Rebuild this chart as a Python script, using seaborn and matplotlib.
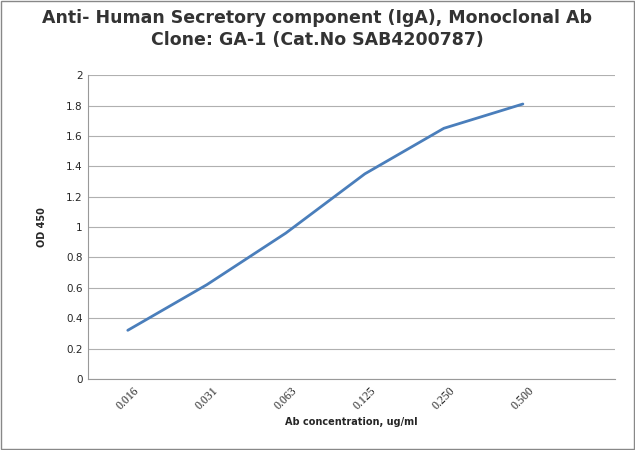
import matplotlib
matplotlib.use("Agg")
import matplotlib.pyplot as plt
import seaborn as sns
import pandas as pd

concentrations = ["0.016", "0.031", "0.063", "0.125", "0.250", "0.500"]
od450 = [0.32, 0.62, 0.96, 1.35, 1.65, 1.81]
yticks = [0, 0.2, 0.4, 0.6, 0.8, 1, 1.2, 1.4, 1.6, 1.8, 2]

sns.set_style("white")
df = pd.DataFrame({"x": range(len(concentrations)), "y": od450})
fig = plt.figure(figsize=(6.35, 4.5), dpi=100)
ax = fig.add_axes([0.139, 0.158, 0.83, 0.675])
sns.lineplot(data=df, x="x", y="y", ax=ax, color="#4a7ebb", linewidth=2)
ax.set_xlim(-0.5, 6.17)
ax.set_ylim(0, 2)
ax.set_yticks(yticks)
ax.set_yticklabels([f"{v:g}" for v in yticks], fontsize=7.5)
ax.set_xticks(range(len(concentrations)))
ax.set_xticklabels(concentrations, rotation=45, fontsize=8.5, family="Liberation Serif")
ax.grid(axis="y", color="#b0b0b0", linewidth=0.8)
for s in ["top", "right"]:
    ax.spines[s].set_visible(False)
ax.spines["left"].set_color("#999999")
ax.spines["bottom"].set_color("#999999")
ax.tick_params(axis="both", length=0, pad=4)
ax.set_xlabel("Ab concentration, ug/ml", fontsize=7, fontweight="bold", labelpad=4)
ax.set_ylabel("OD 450", fontsize=7, fontweight="bold", labelpad=14)
fig.text(0.5, 0.935, "Anti- Human Secretory component (IgA), Monoclonal Ab\nClone: GA-1 (Cat.No SAB4200787)",
         ha="center", va="center", fontsize=12.5, fontweight="bold", linespacing=1.3, color="#333333")
fig.patches.append(plt.Rectangle((0.002, 0.002), 0.996, 0.996, transform=fig.transFigure,
                                 fill=False, edgecolor="#888888", linewidth=1))
fig.savefig("out.png", dpi=100)
